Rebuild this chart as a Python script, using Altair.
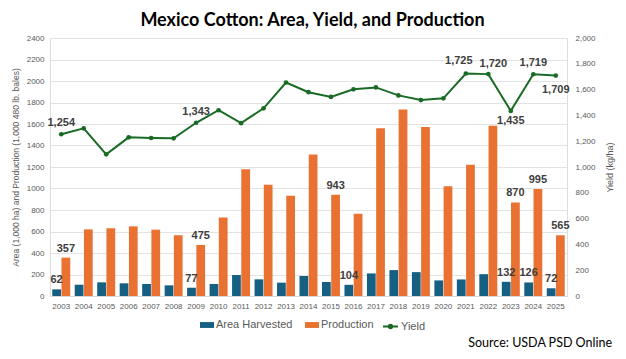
import altair as alt
import pandas as pd

years = [str(y) for y in range(2003, 2026)]
area = [62, 105, 127, 118, 112, 99, 77, 112, 195, 155, 124, 186, 130, 104, 210, 241, 222, 145, 154, 203, 132, 126, 72]
production = [357, 620, 630, 648, 617, 565, 475, 730, 1180, 1034, 932, 1317, 943, 765, 1561, 1735, 1571, 1022, 1220, 1583, 870, 995, 565]
yield_kg = [1254, 1300, 1098, 1230, 1225, 1222, 1343, 1440, 1340, 1455, 1655, 1580, 1543, 1602, 1617, 1555, 1519, 1532, 1725, 1720, 1435, 1719, 1709]

series_names = ["Area Harvested", "Production", "Yield"]
area_label_years = ["2003", "2009", "2016", "2023", "2024", "2025"]
prod_label_years = ["2003", "2009", "2015", "2023", "2024", "2025"]
yield_above_years = ["2003", "2009", "2024"]
yield_left_years = ["2021"]
yield_right_years = ["2022"]
yield_below_years = ["2023"]
yield_below_far_years = ["2025"]

title_text = "Mexico Cotton: Area, Yield, and Production"
left_title = "Area (1,000 ha) and Production (1,000 480 lb. bales)"
right_title = "Yield (kg/ha)"
source_text = "Source: USDA PSD Online"

BLUE = "#156082"
ORANGE = "#E97132"
GREEN = "#196B24"
GRAY = "#595959"
LABEL = "#404040"
FONT = "Liberation Sans"

bars_df = pd.DataFrame(
    {"year": years * 2,
     "series": [series_names[0]] * len(years) + [series_names[1]] * len(years),
     "value": area + production}
)
yield_df = pd.DataFrame({"year": years, "value": yield_kg, "series": [series_names[2]] * len(years)})

x_enc = alt.X(
    "year:N",
    sort=years,
    scale=alt.Scale(paddingInner=0.2, paddingOuter=0.1),
    axis=alt.Axis(title=None, labelAngle=0, domain=True, domainColor="#d9d9d9", ticks=False,
                  labelPadding=6, labelFontSize=8, labelColor=GRAY, labelFont=FONT),
)
xoff_enc = alt.XOffset("series:N", sort=series_names[:2],
                       scale=alt.Scale(domain=series_names[:2], paddingInner=0.05))
y_left = alt.Y(
    "value:Q",
    scale=alt.Scale(domain=[0, 2400]),
    axis=alt.Axis(values=list(range(0, 2401, 200)), labelExpr="format(datum.value, 'd')",
                  title=left_title, grid=True, gridColor="#e3e3e3",
                  domain=False, ticks=False, labelFontSize=8, labelColor=GRAY, labelFont=FONT,
                  labelPadding=6, titleFontSize=8.5, titleColor=GRAY, titleFont=FONT,
                  titleFontWeight="normal", titlePadding=6),
)

bars = alt.Chart(bars_df).mark_bar().encode(
    x=x_enc,
    xOffset=xoff_enc,
    y=y_left,
    color=alt.Color(
        "series:N",
        scale=alt.Scale(domain=series_names[:2], range=[BLUE, ORANGE]),
        legend=alt.Legend(orient="none", legendX=150, legendY=280, direction="horizontal", title=None,
                          symbolType="M-1,-0.42H1V0.42H-1Z", symbolSize=196, symbolStrokeWidth=0,
                          labelFontSize=11, labelColor=GRAY, labelFont=FONT, labelOffset=2,
                          columnPadding=12),
    ),
)

area_lbl = alt.Chart(bars_df).transform_filter(
    alt.FieldOneOfPredicate(field="year", oneOf=area_label_years)
).transform_filter(alt.datum.series == series_names[0]).mark_text(
    baseline="alphabetic", dy=-6, fontSize=11, fontWeight="bold", color=LABEL, font=FONT
).encode(x=x_enc, xOffset=xoff_enc, y=y_left, text=alt.Text("value:Q", format=","))

prod_lbl = alt.Chart(bars_df).transform_filter(
    alt.FieldOneOfPredicate(field="year", oneOf=prod_label_years)
).transform_filter(alt.datum.series == series_names[1]).mark_text(
    baseline="alphabetic", dy=-6, fontSize=11, fontWeight="bold", color=LABEL, font=FONT
).encode(x=x_enc, xOffset=xoff_enc, y=y_left, text=alt.Text("value:Q", format=","))

source = alt.Chart(pd.DataFrame({"t": [source_text]})).mark_text(
    align="right", baseline="alphabetic", fontSize=12.5, font="Lato", color="black"
).encode(x=alt.value(562), y=alt.value(309), text="t:N")

left = alt.layer(bars, area_lbl, prod_lbl, source)

y_right = alt.Y(
    "value:Q",
    scale=alt.Scale(domain=[0, 2000]),
    axis=alt.Axis(orient="right", values=list(range(0, 2001, 200)),
                  labelExpr="format(datum.value, ',')", title=right_title,
                  grid=False, domain=False, ticks=False, labelFontSize=8, labelColor=GRAY,
                  labelFont=FONT, labelPadding=8, titleFontSize=9, titleColor=GRAY,
                  titleFont=FONT, titleFontWeight="normal", titlePadding=10,
                  titleAngle=270, titleBaseline="top"),
)

line = alt.Chart(yield_df).mark_line(strokeWidth=2).encode(
    x=x_enc,
    y=y_right,
    stroke=alt.Stroke(
        "series:N",
        scale=alt.Scale(domain=[series_names[2]], range=[GREEN]),
        legend=alt.Legend(orient="none", legendX=332, legendY=280, title=None,
                          symbolType="M-1,0H1M-0.22,0A0.22,0.22,0,1,1,0.22,0A0.22,0.22,0,1,1,-0.22,0",
                          symbolSize=225, symbolStrokeWidth=2, symbolFillColor=GREEN,
                          labelFontSize=11, labelColor=GRAY, labelFont=FONT, labelOffset=2),
    ),
)
pts = alt.Chart(yield_df).mark_circle(size=22, color=GREEN, opacity=1).encode(x=x_enc, y=y_right)


def ylabels(yrs, dx, dy):
    return alt.Chart(yield_df).transform_filter(
        alt.FieldOneOfPredicate(field="year", oneOf=yrs)
    ).mark_text(baseline="alphabetic", dx=dx, dy=dy, fontSize=11, fontWeight="bold",
                color=LABEL, font=FONT).encode(x=x_enc, y=y_right, text=alt.Text("value:Q", format=","))


right = alt.layer(
    line, pts,
    ylabels(yield_above_years, 0, -8),
    ylabels(yield_left_years, -7, -9),
    ylabels(yield_right_years, 5, -7),
    ylabels(yield_below_years, 0, 13.5),
    ylabels(yield_below_far_years, 0, 17),
)

chart = alt.layer(left, right).resolve_scale(y="independent", color="independent").properties(
    width=517,
    height=258,
    title=alt.TitleParams(title_text, font="Lato", fontSize=18, fontWeight="bold", color="black",
                          anchor="middle", dx=4),
    autosize=alt.AutoSizeParams(type="none"),
    padding={"left": 42, "top": 30, "right": 51, "bottom": 55},
).configure_view(stroke=None).configure(background="white")

chart.save("out.html", embed_options={"renderer": "svg", "actions": False})
